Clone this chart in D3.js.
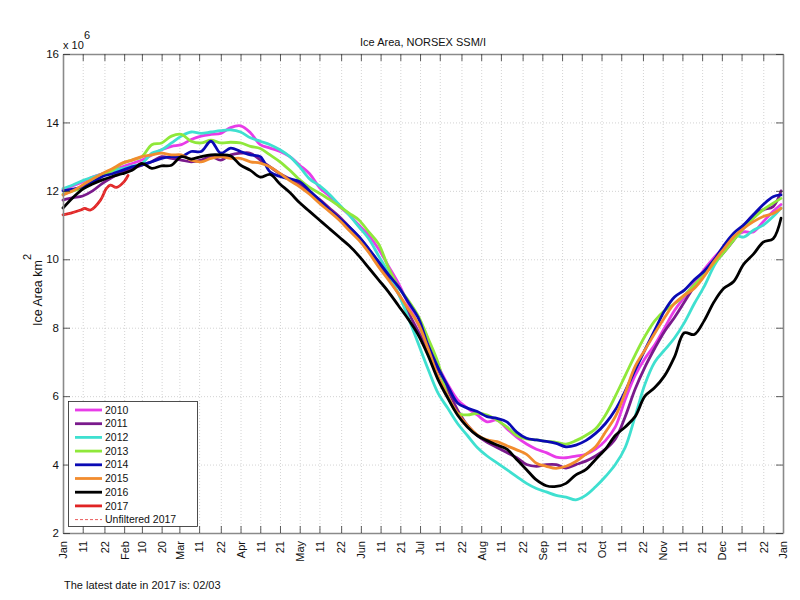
<!DOCTYPE html>
<html><head><meta charset="utf-8">
<script src="https://cdn.jsdelivr.net/npm/d3@7/dist/d3.min.js"></script>
<style>body{margin:0;background:#fff} text{font-family:"Liberation Sans",Arial,Helvetica,sans-serif;fill:#111}</style>
</head><body><svg id="chart" width="800" height="600"></svg>
<script>
// ---- data (day of year, area in 10^6 km^2) ----
const days = [0,5,10,15,20,25,30,35,40,45,50,55,60,65,70,75,80,85,90,95,
  100,105,110,115,120,125,130,135,140,145,150,155,160,165,170,175,180,185,190,195,
  200,205,210,215,220,225,230,235,240,245,250,255,260,265,270,275,280,285,290,295,
  300,305,310,315,320,325,330,335,340,345,350,355,360,364];
const y2010 = [12.03,12.15,12.27,12.4,12.5,12.6,12.7,12.8,12.9,13.05,
  13.2,13.3,13.35,13.5,13.6,13.65,13.68,13.85,13.9,13.7,
  13.35,13.25,13.15,13.0,12.75,12.5,12.1,11.85,11.55,11.3,
  11.0,10.7,10.3,9.8,9.3,8.7,8.1,7.5,6.9,6.35,
  5.9,5.65,5.45,5.25,5.3,5.05,4.8,4.6,4.45,4.35,
  4.22,4.2,4.25,4.3,4.45,4.7,5.1,5.9,6.6,7.1,
  7.5,8.0,8.5,8.9,9.3,9.7,10.05,10.35,10.65,10.8,
  10.8,11.1,11.4,11.6];
const y2011 = [11.73,11.8,11.85,12.0,12.22,12.4,12.55,12.65,12.75,12.85,
  13.0,12.95,12.9,12.85,12.9,13.0,12.9,13.05,13.1,13.1,
  12.9,12.7,12.5,12.35,12.2,11.95,11.75,11.5,11.25,10.95,
  10.65,10.3,9.9,9.45,9.0,8.45,7.9,7.35,6.8,6.2,
  5.6,5.15,4.85,4.65,4.5,4.35,4.2,4.0,3.95,4.0,
  4.0,3.9,4.0,4.1,4.25,4.45,4.75,5.4,6.2,6.85,
  7.4,7.9,8.3,8.75,9.2,9.55,9.88,10.2,10.56,10.95,
  11.3,11.45,11.54,12.0];
const y2012 = [12.07,12.17,12.3,12.4,12.5,12.58,12.65,12.72,12.8,13.1,
  13.2,13.4,13.6,13.72,13.68,13.72,13.76,13.78,13.72,13.55,
  13.45,13.35,13.2,13.0,12.7,12.35,12.15,11.9,11.6,11.3,
  10.95,10.6,10.1,9.6,9.0,8.3,7.55,6.8,6.1,5.65,
  5.2,4.85,4.5,4.25,4.05,3.85,3.65,3.45,3.3,3.2,
  3.1,3.05,2.97,3.1,3.35,3.65,4.0,4.5,5.4,6.35,
  7.0,7.35,7.7,8.15,8.7,9.2,9.8,10.25,10.7,10.65,
  10.85,11.0,11.25,11.5];
const y2013 = [11.9,12.0,12.1,12.3,12.45,12.6,12.8,12.9,13.0,13.35,
  13.4,13.6,13.65,13.45,13.4,13.48,13.4,13.42,13.4,13.3,
  13.24,13.05,12.85,12.6,12.32,12.1,11.93,11.75,11.55,11.35,
  11.15,10.8,10.45,9.75,9.2,8.8,8.35,7.7,7.0,6.0,
  5.5,5.45,5.5,5.45,5.3,5.1,4.85,4.75,4.72,4.68,
  4.65,4.6,4.7,4.85,5.05,5.45,6.0,6.6,7.2,7.75,
  8.2,8.5,8.7,8.95,9.25,9.55,9.88,10.2,10.56,10.9,
  11.2,11.45,11.64,11.78];
const y2014 = [12.0,12.05,12.12,12.25,12.42,12.5,12.6,12.7,12.76,12.85,
  12.95,13.0,13.0,13.15,13.15,13.45,13.1,13.25,13.15,13.05,
  13.0,12.55,12.42,12.35,12.27,12.0,11.73,11.45,11.2,10.95,
  10.66,10.3,9.93,9.55,9.2,8.75,8.3,7.5,6.85,6.3,
  5.8,5.65,5.55,5.4,5.35,5.25,4.95,4.77,4.72,4.68,
  4.62,4.52,4.57,4.7,4.91,5.2,5.6,6.15,6.76,7.35,
  7.93,8.5,8.9,9.1,9.4,9.65,9.98,10.4,10.76,11.0,
  11.3,11.6,11.83,11.88];
const y2015 = [11.88,12.0,12.17,12.35,12.51,12.65,12.81,12.9,13.0,13.05,
  13.1,13.05,13.05,12.9,12.85,12.95,13.0,12.95,12.95,12.85,
  12.81,12.7,12.51,12.3,12.12,11.9,11.64,11.4,11.15,10.85,
  10.56,10.2,9.78,9.4,9.0,8.55,8.13,7.4,6.6,6.0,
  5.5,5.15,4.87,4.72,4.67,4.55,4.43,4.3,4.04,3.95,
  3.89,3.95,4.09,4.3,4.52,4.95,5.4,6.1,6.86,7.35,
  7.84,8.3,8.71,8.95,9.15,9.5,9.93,10.3,10.66,10.9,
  11.1,11.25,11.34,11.49];
const y2016 = [11.5,11.8,12.05,12.2,12.32,12.42,12.5,12.6,12.8,12.66,
  12.73,12.75,13.0,12.93,13.0,13.05,13.05,13.02,12.75,12.6,
  12.4,12.48,12.2,11.95,11.65,11.4,11.15,10.9,10.65,10.4,
  10.1,9.75,9.4,9.05,8.65,8.25,7.8,7.2,6.5,5.95,
  5.45,5.1,4.85,4.7,4.57,4.45,4.15,3.85,3.55,3.38,
  3.36,3.45,3.7,3.85,4.15,4.45,4.85,5.1,5.4,6.0,
  6.25,6.6,7.15,7.85,7.8,8.2,8.75,9.15,9.35,9.85,
  10.15,10.5,10.6,11.2];
const days2017 = [0,4,9,11,14,19,22,24,27,31,33];
const y2017 = [11.3,11.35,11.44,11.49,11.44,11.73,12.07,12.17,12.1,12.27,12.45];

const seriesNames = ["2010","2011","2012","2013","2014","2015","2016","2017"];
const seriesColors = ["#e83ce8","#7a1a8c","#3fe0d0","#8fe83a","#0a0ab4","#f28c2e","#000000","#e02424"];

const tickDays   = [0,10,21,31,40,50,59,69,80,90,100,110,120,130,141,151,161,171,181,191,202,212,222,233,243,253,263,273,283,294,304,314,324,334,344,355,365];
const tickLabels = ["Jan","11","22","Feb","10","20","Mar","11","22","Apr","11","21","May","11","22","Jun","11","21","Jul","11","22","Aug","11","22","Sep","11","21","Oct","11","22","Nov","11","21","Dec","11","22","Jan"];
const yTicks = [2,4,6,8,10,12,14,16];

// ---- chart ----
const W = 800, H = 600;
const M = {left:63, right:783, top:54, bottom:533};
const x = d3.scaleLinear().domain([0,365]).range([M.left, M.right]);
const y = d3.scaleLinear().domain([2,16]).range([M.bottom, M.top]);
const svg = d3.select("#chart");
svg.append("rect").attr("width",W).attr("height",H).attr("fill","#fff");

// grid
const gGrid = svg.append("g");
gGrid.append("g").attr("transform",`translate(0,${M.bottom})`)
  .call(d3.axisBottom(x).tickValues(tickDays.slice(1,-1)).tickSize(-(M.bottom-M.top)).tickFormat(""))
  .call(g=>g.select(".domain").remove());
gGrid.append("g").attr("transform",`translate(${M.left},0)`)
  .call(d3.axisLeft(y).tickValues(yTicks.slice(1,-1)).tickSize(-(M.right-M.left)).tickFormat(""))
  .call(g=>g.select(".domain").remove());
gGrid.selectAll("line").attr("stroke","#c8c8c8").attr("stroke-width",0.8).attr("stroke-dasharray","1,2");

// lines
const line = d3.line().x(d=>x(d[0])).y(d=>y(d[1])).curve(d3.curveCatmullRom.alpha(0.5));
const allSeries = [y2010,y2011,y2012,y2013,y2014,y2015,y2016];
const gLines = svg.append("g");
allSeries.forEach((vals,i)=>{
  gLines.append("path").datum(days.map((d,j)=>[d,vals[j]]))
    .attr("d",line).attr("fill","none").attr("stroke",seriesColors[i])
    .attr("stroke-width",2.8).attr("stroke-linejoin","round").attr("stroke-linecap","round");
});
const d17 = days2017.map((d,j)=>[d,y2017[j]]);
gLines.append("path").datum(d17).attr("d",line).attr("fill","none")
  .attr("stroke",seriesColors[7]).attr("stroke-width",2.8).attr("stroke-linejoin","round").attr("stroke-linecap","round");
gLines.append("path").datum(d17).attr("d",line).attr("fill","none")
  .attr("stroke","#e84a4a").attr("stroke-width",0.9).attr("stroke-dasharray","3,2");

// axes (ticks inward)
const axCol = "#333";
const axBottom = svg.append("g").attr("transform",`translate(0,${M.bottom})`)
  .call(d3.axisBottom(x).tickValues(tickDays).tickSizeInner(-7).tickSizeOuter(0)
    .tickFormat((d,i)=>tickLabels[i]));
axBottom.selectAll("text").attr("transform","rotate(-90)").attr("x",-8).attr("y",0)
  .attr("dy","0.35em").attr("text-anchor","end").style("font-size","11px");
const axTop = svg.append("g").attr("transform",`translate(0,${M.top})`)
  .call(d3.axisTop(x).tickValues(tickDays).tickSizeInner(-7).tickSizeOuter(0).tickFormat(""));
const axLeft = svg.append("g").attr("transform",`translate(${M.left},0)`)
  .call(d3.axisLeft(y).tickValues(yTicks).tickSizeInner(-7).tickSizeOuter(0).tickPadding(4));
axLeft.selectAll("text").style("font-size","11.5px");
const axRight = svg.append("g").attr("transform",`translate(${M.right},0)`)
  .call(d3.axisRight(y).tickValues(yTicks).tickSizeInner(-7).tickSizeOuter(0).tickFormat(""));
[axBottom,axTop,axLeft,axRight].forEach(g=>{
  g.selectAll(".tick line").attr("stroke",axCol).attr("stroke-width",0.8);
  g.select(".domain").attr("stroke","#8a8a8a").attr("stroke-width",1.6);
  g.selectAll("text").style("font-family",'"Liberation Sans",Arial,sans-serif').attr("fill","#111");
});

// labels
svg.append("text").attr("x",423).attr("y",46).attr("text-anchor","middle")
  .style("font-size","11px").text("Ice Area, NORSEX SSM/I");
svg.append("text").attr("x",63).attr("y",49).style("font-size","11px").text("x 10");
svg.append("text").attr("x",84).attr("y",39).style("font-size","11px").text("6");
const yl = svg.append("text").attr("transform","translate(42,290) rotate(-90)")
  .attr("text-anchor","middle").style("font-size","12.5px");
yl.append("tspan").text("Ice Area km");
yl.append("tspan").attr("dy","-1em").style("font-size","11px").text("2");
svg.append("text").attr("x",64).attr("y",589).style("font-size","11px")
  .text("The latest date in 2017 is: 02/03");

// legend
const lg = svg.append("g");
lg.append("rect").attr("x",68.5).attr("y",401.5).attr("width",129).attr("height",125)
  .attr("fill","#fff").attr("stroke","#222").attr("stroke-width",0.8);
const legendNames = seriesNames.concat(["Unfiltered 2017"]);
legendNames.forEach((n,i)=>{
  const yy = 410 + i*13.7;
  const ln = lg.append("line").attr("x1",75).attr("x2",102).attr("y1",yy).attr("y2",yy);
  if(i<8){ ln.attr("stroke",seriesColors[i]).attr("stroke-width",2.8); }
  else { ln.attr("stroke","#e84a4a").attr("stroke-width",0.9).attr("stroke-dasharray","3,2"); }
  lg.append("text").attr("x",105).attr("y",yy).attr("dy","0.35em")
    .style("font-size","10.5px").text(n);
});
</script></body></html>
